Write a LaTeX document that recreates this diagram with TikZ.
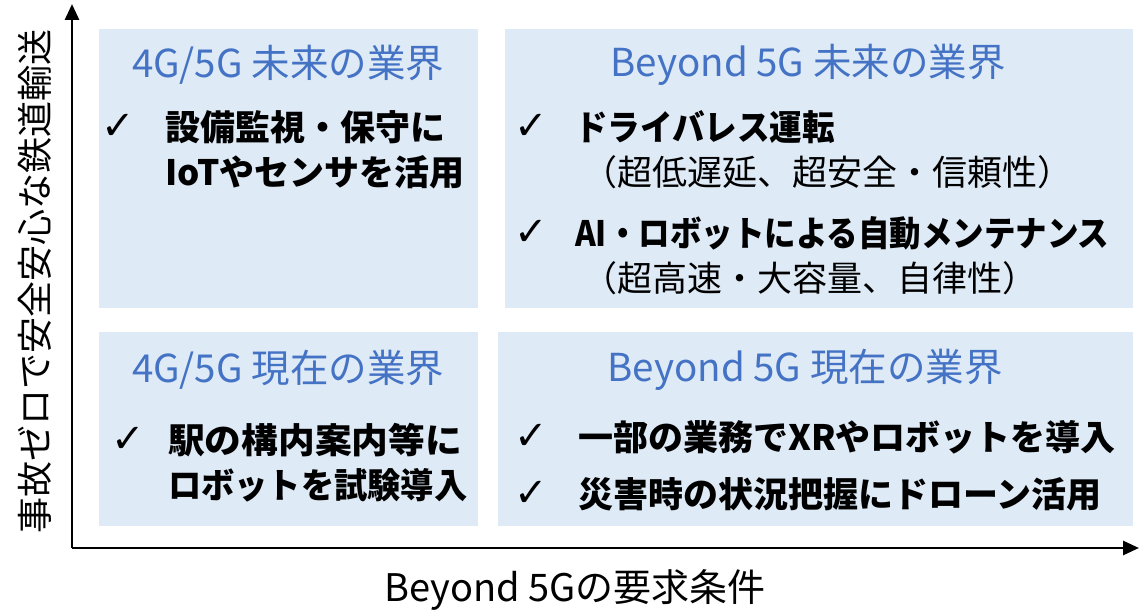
\documentclass[tikz,border=0pt]{standalone}
\usepackage{fontspec}
\usepackage{graphicx}
\setmainfont{Noto Sans CJK JP}
\newfontfamily\chkfont{DejaVu Sans}
\usetikzlibrary{arrows.meta}
\definecolor{boxfill}{HTML}{DEEAF6}
\definecolor{ttlblue}{HTML}{4472C4}
\tikzset{
  ttl/.style={font=\fontsize{38.5}{42}\selectfont, text=ttlblue, inner sep=0pt},
  item/.style={font=\bfseries\fontsize{35}{42}\selectfont, anchor=west, inner sep=0pt},
  note/.style={font=\fontsize{35}{42}\selectfont, anchor=west, inner sep=0pt},
  chk/.style={font=\chkfont\fontsize{40}{44}\selectfont, inner sep=0pt},
  axis/.style={line width=2.8pt, -{Triangle[length=16pt,width=14pt]}}
}
\begin{document}
\begin{tikzpicture}[x=1pt,y=1pt]
\useasboundingbox (0,0) rectangle (1140,610);
\coordinate (O) at (72,62);
\coordinate (Ytop) at (72,606);
\coordinate (Xend) at (1139,62);

% quadrants
\fill[boxfill] (99,302) rectangle (478,581);
\fill[boxfill] (505,302) rectangle (1133,581);
\fill[boxfill] (99,84) rectangle (478,278);
\fill[boxfill] (498,84) rectangle (1133,278);

% titles
\node[ttl] (T1) at (288,545) {4G/5G 未来の業界};
\node[ttl] (T2) at (808,545) {Beyond 5G 未来の業界};
\node[ttl] (T3) at (288,240) {4G/5G 現在の業界};
\node[ttl] (T4) at (805,240) {Beyond 5G 現在の業界};

% upper left
\node[chk] (C1) at (118,483) {✓};
\node[item] (L1) at (165,483) {設備監視・保守に};
\node[item] (L2) at (165,438) {IoTやセンサを活用};

% upper right
\node[chk] (C2) at (531,483) {✓};
\node[item] (R1) at (575,483) {\scalebox{0.93}[1]{ドライバレス運転}};
\node[note] (R2) at (582,438) {（超低遅延、超安全・信頼性）};
\node[chk] (C3) at (531,377) {✓};
\node[item] (R3) at (575,377) {\scalebox{0.9}[1]{AI・ロボットによる自動メンテナンス}};
\node[note] (R4) at (582,332) {（超高速・大容量、自律性）};

% lower left
\node[chk] (C4) at (128,170) {✓};
\node[item] (L3) at (168,170) {\scalebox{1.05}[1]{駅の構内案内等に}};
\node[item] (L4) at (168,125) {\scalebox{0.95}[1]{ロボットを試験導入}};

% lower right
\node[chk] (C5) at (531,173) {✓};
\node[item] (R5) at (578,173) {一部の業務でXRやロボットを導入};
\node[chk] (C6) at (531,116) {✓};
\node[item] (R6) at (578,116) {災害時の状況把握にドローン活用};

% axes
\draw[axis] (O) -- (Ytop);
\draw[axis] (O) -- (Xend);
\node[font=\fontsize{36}{40}\selectfont, rotate=90, inner sep=0pt] (Ylab) at (35,328) {事故ゼロで安全安心な鉄道輸送};
\node[font=\fontsize{38}{42}\selectfont, inner sep=0pt] (Xlab) at (575,20) {Beyond 5Gの要求条件};
\end{tikzpicture}
\end{document}
